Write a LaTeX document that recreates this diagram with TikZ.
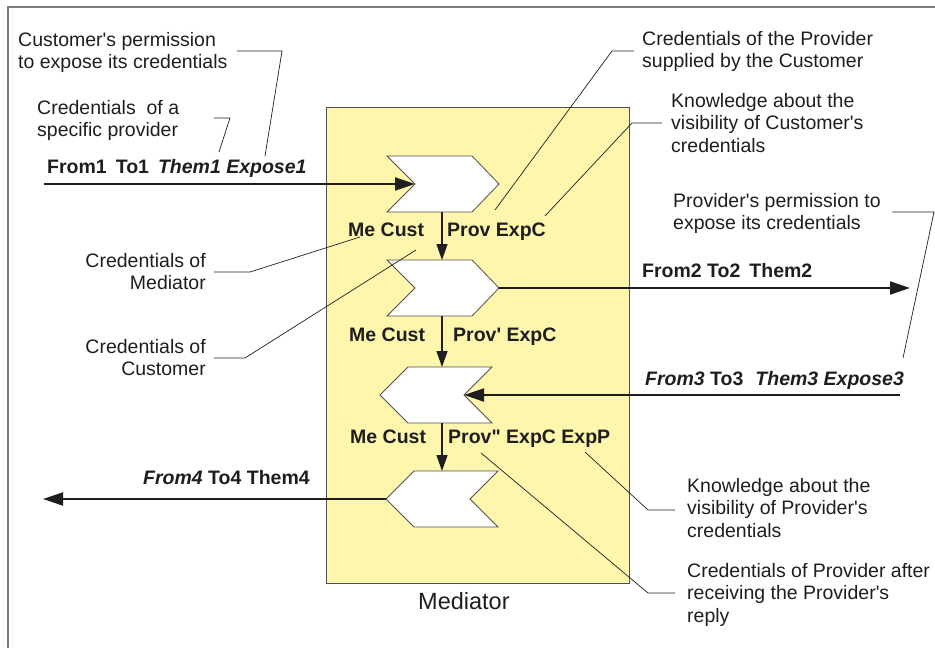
\documentclass[tikz,border=0pt]{standalone}
\usepackage{fontspec}
\setmainfont{Liberation Sans}[Ligatures=TeXOff]
\usetikzlibrary{arrows.meta}
\definecolor{ink}{HTML}{1E1E1E}
\definecolor{framegray}{HTML}{7A7A7A}
\definecolor{boxline}{HTML}{505050}
\definecolor{medfill}{HTML}{FFF6AE}
\tikzset{
  note/.style={font=\fontsize{19.5}{22.5}\selectfont, text=ink, inner sep=0pt, anchor=north west, align=left},
  noteR/.style={note, anchor=north east, align=right},
  tag/.style={font=\fontsize{19.5}{22}\selectfont\bfseries, text=ink, inner sep=0pt, anchor=base west},
  title/.style={font=\fontsize{23.5}{26}\selectfont, text=ink, inner sep=0pt, anchor=base west},
  lead/.style={draw=ink, line width=0.7pt},
  flow/.style={draw=ink, line width=2pt, -{Triangle[length=20pt,width=13pt]}},
  pass/.style={draw=ink, line width=1.3pt, -{Triangle[length=16pt,width=11pt]}},
  chev/.style={draw=boxline, fill=white, line width=0.8pt, line join=miter},
}
\begin{document}
\begin{tikzpicture}[x=1pt,y=-1pt]
\useasboundingbox (0,0) rectangle (935,648);

% page frame (open at right and bottom)
\draw[framegray, line width=1.5pt] (8,648) -- (8,7) -- (935,7);

% mediator block
\draw[boxline, fill=medfill, line width=1pt] (326,107) rectangle (629,583);
\node[title] (medname) at (418,609) {Mediator};

% chevrons: two pointing right, two pointing left
\draw[chev] (387,156) -- (472,156) -- (499,184) -- (472,212) -- (387,212) -- (415,184) -- cycle;
\draw[chev] (387,260) -- (472,260) -- (499,288) -- (472,316) -- (387,316) -- (415,288) -- cycle;
\draw[chev] (380,395) -- (408,367) -- (492,367) -- (464,395) -- (492,423) -- (408,423) -- cycle;
\draw[chev] (386,499) -- (414,471) -- (498,471) -- (470,499) -- (498,527) -- (414,527) -- cycle;

% connection points of the chevrons
\coordinate (c1notch) at (415,184);
\coordinate (c1bot) at (442,212);
\coordinate (c2top) at (442,260);
\coordinate (c2tip) at (499,288);
\coordinate (c2bot) at (442,316);
\coordinate (c3top) at (442,367);
\coordinate (c3notch) at (464,395);
\coordinate (c3bot) at (442,423);
\coordinate (c4top) at (442,471);
\coordinate (c4tip) at (386,499);

% outer ends of the message arrows
\coordinate (in1) at (44,184);
\coordinate (out2) at (910,288);
\coordinate (in3) at (900,395);
\coordinate (out4) at (43,499);

% messages
\draw[flow] (in1) -- (c1notch);
\draw[flow] (c2tip) -- (out2);
\draw[flow] (in3) -- (c3notch);
\draw[flow] (c4tip) -- (out4);

% internal state passing
\draw[pass] (c1bot) -- (c2top);
\draw[pass] (c2bot) -- (c3top);
\draw[pass] (c3bot) -- (c4top);

% message labels
\node[tag] (m1) at (47,173) {From1\hspace{9pt}To1\hspace{9pt}\itshape Them1 Expose1};
\node[tag] (m2) at (642,277) {From2 To2\hspace{9pt}Them2};
\node[tag] (m3) at (645,385) {\textit{From3} To3\hspace{12pt}\itshape Them3 Expose3};
\node[tag] (m4) at (143,484) {\textit{From4} To4 Them4};

% state labels
\node[tag] (me1) at (348,236) {Me Cust};
\node[tag] (pv1) at (447,236) {Prov ExpC};
\node[tag] (me2) at (349,341) {Me Cust};
\node[tag] (pv2) at (453,341) {Prov' ExpC};
\node[tag] (me3) at (350,443) {Me Cust};
\node[tag] (pv3) at (448,443) {Prov" ExpC ExpP};

% explanations
\node[note] (nA) at (18,32) {Customer's permission\\to expose its credentials};
\node[note] (nB) at (37,100) {Credentials\ \ of a\\specific provider};
\node[note] (nC) at (642,31) {Credentials of the Provider\\supplied by the Customer};
\node[note] (nD) at (671,93) {Knowledge about the\\visibility of Customer's\\credentials};
\node[note] (nE) at (673,193) {Provider's permission to\\expose its credentials};
\node[noteR] (nF) at (206,253) {Credentials of\\Mediator};
\node[noteR] (nG) at (206,339) {Credentials of\\Customer};
\node[note] (nH) at (687,478) {Knowledge about the\\visibility of Provider's\\credentials};
\node[note] (nI) at (687,563) {Credentials of Provider after\\receiving the Provider's\\reply};

% leader lines
\coordinate (lA0) at (237,51);  \coordinate (lA1) at (282,51);  \coordinate (lA2) at (265,156);
\coordinate (lB0) at (214,118); \coordinate (lB1) at (230,118); \coordinate (lB2) at (219,152);
\coordinate (lC0) at (634,51);  \coordinate (lC1) at (612,51);  \coordinate (lC2) at (495,210);
\coordinate (lD0) at (662,123); \coordinate (lD1) at (632,123); \coordinate (lD2) at (545,216);
\coordinate (lE0) at (892,212); \coordinate (lE1) at (934,212); \coordinate (lE2) at (903,358);
\coordinate (lF0) at (214,272); \coordinate (lF1) at (250,272); \coordinate (lF2) at (360,237);
\coordinate (lG0) at (214,358); \coordinate (lG1) at (245,358); \coordinate (lG2) at (416,250);
\coordinate (lH0) at (675,510); \coordinate (lH1) at (648,510); \coordinate (lH2) at (585,452);
\coordinate (lI0) at (675,593); \coordinate (lI1) at (648,593); \coordinate (lI2) at (481,453);
\foreach \k in {A,B,C,D,E,F,G,H,I}
  \draw[lead] (l\k0) -- (l\k1) -- (l\k2);
\end{tikzpicture}
\end{document}
